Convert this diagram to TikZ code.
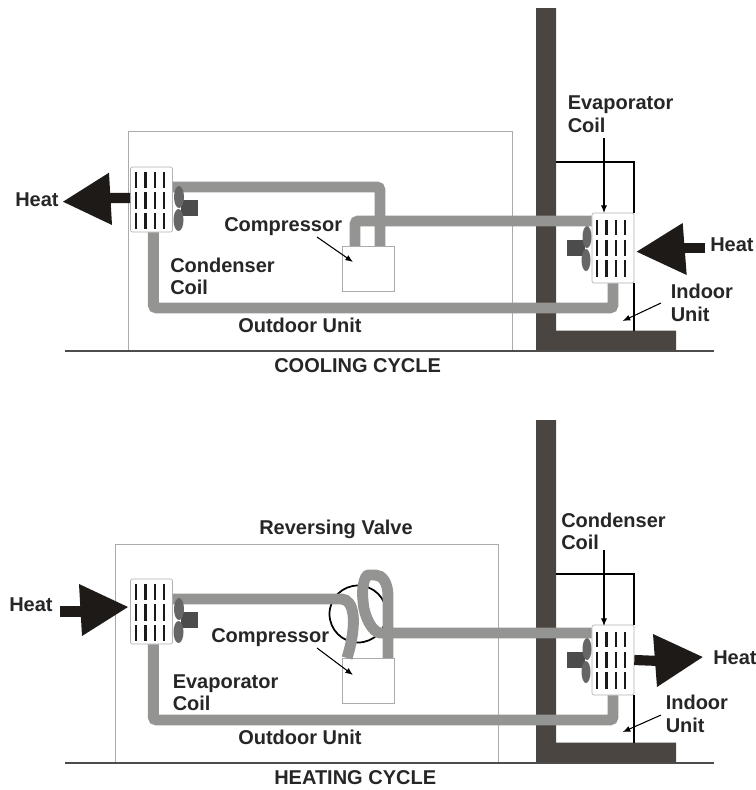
\documentclass[tikz,border=0pt]{standalone}
\usepackage{fontspec}
\setmainfont{Liberation Sans}
\usetikzlibrary{arrows.meta, positioning, calc}
\definecolor{wallc}{HTML}{4A4540}
\definecolor{pipec}{HTML}{949492}
\definecolor{fanc}{HTML}{666666}
\definecolor{motorc}{HTML}{4C4C4C}
\definecolor{arrowc}{HTML}{1E1A18}
\definecolor{linec}{HTML}{ABABAB}
\begin{document}
\begin{tikzpicture}[
x=0.75pt, y=-0.75pt,
lbl/.style={font=\fontsize{15}{16.9}\selectfont\bfseries, text=black!85, align=left, inner sep=0pt, anchor=west},
wall/.style={fill=wallc},
ground/.style={draw=black!70, line width=0.9pt},
unitbox/.style={draw=linec, line width=0.6pt},
coil/.style={draw=black!30, fill=white, rounded corners=1.5pt, line width=0.5pt, minimum width=31.5pt, inner sep=0pt},
cmpbox/.style={draw=linec, fill=white, line width=0.6pt, minimum width=39pt, minimum height=34pt, inner sep=0pt},
pipe/.style={draw=pipec, line width=8.2pt, rounded corners=2.5pt},
wire/.style={draw=black, line width=1.4pt},
pointer/.style={-{Latex[length=2mm, width=1.6mm]}, black, line width=0.8pt},
shaft/.style={draw=arrowc, line width=7.6pt},
heathead/.style={fill=arrowc},
fin/.style={line width=1.9pt, black!90}
]

% backdrop fixes the page size
\useasboundingbox (0,0) rectangle (756,790);

% cooling cycle
\draw[unitbox] (128.5,351) |- (512,131) -- (512,351);
\fill[wall] (536,8) -- (556,8) -- (556,330.5) -- (676,330.5) -- (676,351) -- (536,351) -- cycle;
\draw[ground] (65,351) -- (714,351);

\node[coil, minimum height=48.75pt] (coilA) at (151.5,199.5) {};
\node[coil, minimum height=52.5pt] (coilB) at (613,248) {};
\node[cmpbox] (cmpA) at (368,269) {};
\coordinate (botA) at (400,308);

\draw[pipe] ([yshift=9.4pt]coilA.east) -| ([xshift=9pt]cmpA.north);
\draw[pipe] ([xshift=-9.75pt]cmpA.north) |- ([yshift=20.25pt]coilB.west);
\draw[pipe] ([xshift=1.35pt]coilA.south) |- (botA) -| (coilB.south);

\draw[wire] (556,162) -| (coilB.north east);
\draw[wire] (coilB.south east) -- (coilB.east |- 0,331);

\foreach \x in {136,145.5,155,164} {
\draw[fin] (\x,172) -- (\x,188);
\draw[fin] (\x,192) -- (\x,208.5);
\draw[fin] (\x,213) -- (\x,229);
}
\foreach \x in {597,606.5,616,625} {
\draw[fin] (\x,220) -- (\x,235);
\draw[fin] (\x,240) -- (\x,256);
\draw[fin] (\x,260) -- (\x,277);
}
\fill[motorc] (181,200) rectangle (198,216);
\fill[fanc] (179,197) ellipse (5 and 11);
\fill[fanc] (178.5,220) ellipse (5 and 11);
\fill[motorc] (567,240) rectangle (585,256);
\fill[fanc] (587,237) ellipse (4.5 and 11);
\fill[fanc] (586,260) ellipse (4.5 and 11);

\coordinate (tipA) at (110,198);
\draw[shaft] ([yshift=1.1pt]coilA.west) -- (tipA);
\fill[heathead] (63,201.7) -- (109,172.7) -- (112,225) -- cycle;
\coordinate (tailB) at (705,248);
\draw[shaft] (tailB) -- (680,248);
\fill[heathead] (636.7,251.7) -- (682.7,223) -- (686.7,275) -- cycle;

\node[lbl] (heatA) at (15,200) {Heat};
\node[lbl] (compA) at (224,227) {Compressor};
\node[lbl] (condA) at (170,276.5) {Condenser\\Coil};
\node[lbl] (outA) at (238,325) {Outdoor Unit};
\node[lbl] (titleA) at (274,366) {COOLING CYCLE};
\node[lbl] (evapB) at (567.5,114) {Evaporator\\Coil};
\node[lbl] (heatB) at (710,245) {Heat};
\node[lbl] (indB) at (670.5,303) {Indoor\\Unit};

\coordinate (cmpAtail) at (317,237);
\coordinate (cmpAtip) at (353,262);
\coordinate (indBtip) at (622.7,321);
\draw[pointer] (cmpAtail) -- (cmpAtip);
\draw[pointer] (604,138) -- (604,213);
\draw[pointer] (661,303) -- (indBtip);

% heating cycle
\draw[unitbox] (115,763) |- (498,544) -- (498,763);
\fill[wall] (536,420) -- (556,420) -- (556,742.5) -- (676,742.5) -- (676,763) -- (536,763) -- cycle;
\draw[ground] (65,763) -- (714,763);

\node[coil, minimum height=48.75pt] (coilC) at (151.5,611.5) {};
\node[coil, minimum height=52.5pt] (coilD) at (613,660) {};
\node[cmpbox] (cmpC) at (368,681) {};
\coordinate (botC) at (400,720);

\draw[black, line width=1.3pt] (358,614) circle (28.5);
\coordinate (lowC) at (347,658);
\coordinate (highC) at (388,658);
\draw[pipe] ([yshift=9.4pt]coilC.east) -- (338,599) .. controls (354,599) and (358,622) .. (lowC);
\draw[pipe] (highC) -- (388,600) .. controls (388,582) and (382,575) .. (372,575) .. controls (364,575) and (362,590) .. (363,600) .. controls (364,615) and (372,633) .. (384,633) -- ([yshift=20.25pt]coilD.west);
\draw[pipe] ([xshift=1.35pt]coilC.south) |- (botC) -| (coilD.south);

\draw[wire] (556,574) -| (coilD.north east);
\draw[wire] (coilD.south east) -- (coilD.east |- 0,743);

\foreach \x in {136,145.5,155,164} {
\draw[fin] (\x,584) -- (\x,600);
\draw[fin] (\x,604) -- (\x,620.5);
\draw[fin] (\x,625) -- (\x,641);
}
\foreach \x in {597,606.5,616,625} {
\draw[fin] (\x,632) -- (\x,647);
\draw[fin] (\x,652) -- (\x,668);
\draw[fin] (\x,672) -- (\x,689);
}
\fill[motorc] (181,612) rectangle (198,628);
\fill[fanc] (179,609) ellipse (5 and 11);
\fill[fanc] (178.5,632) ellipse (5 and 11);
\fill[motorc] (567,652) rectangle (585,668);
\fill[fanc] (587,649) ellipse (4.5 and 11);
\fill[fanc] (586,672) ellipse (4.5 and 11);

\coordinate (tailC) at (60,611.5);
\draw[shaft] (tailC) -- (85,611.5);
\fill[heathead] (128,607) -- (79,584) -- (82,636) -- cycle;
\coordinate (tipD) at (660,661);
\draw[shaft] (coilD.east) -- (tipD);
\fill[heathead] (702.7,657) -- (653,634) -- (657,687) -- cycle;

\node[lbl] (heatC) at (9,605) {Heat};
\node[lbl] (revC) at (259,529) {Reversing Valve};
\node[lbl] (compC) at (211,638) {Compressor};
\node[lbl] (evapC) at (172.5,692.5) {Evaporator\\Coil};
\node[lbl] (outC) at (238,737) {Outdoor Unit};
\node[lbl] (titleC) at (274,778) {HEATING CYCLE};
\node[lbl] (condD) at (561,531.5) {Condenser\\Coil};
\node[lbl] (heatD) at (713,658) {Heat};
\node[lbl] (indD) at (665.5,714) {Indoor\\Unit};

\coordinate (cmpCtail) at (317,648);
\coordinate (cmpCtip) at (353,675);
\coordinate (indDtip) at (622.7,732);
\draw[pointer] (cmpCtail) -- (cmpCtip);
\draw[pointer] (604,550) -- (604,626);
\draw[pointer] (661,715) -- (indDtip);

\end{tikzpicture}
\end{document}
